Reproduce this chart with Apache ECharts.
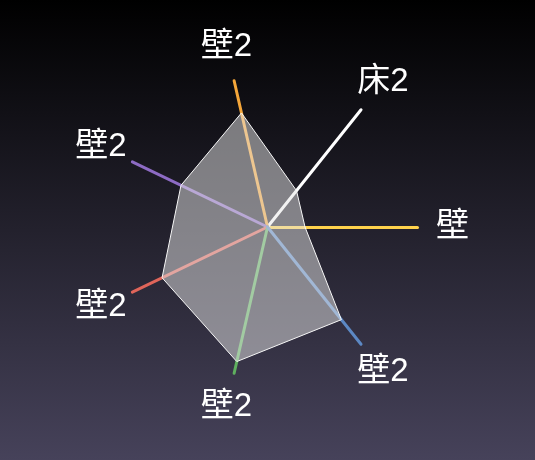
<!DOCTYPE html>
<html>
<head>
<meta charset="utf-8">
<script src="https://cdn.jsdelivr.net/npm/echarts@6/dist/echarts.min.js"></script>
<style>html,body{margin:0;padding:0;background:#000}#c{width:535px;height:460px}</style>
</head>
<body>
<div id="c"></div>
<script>
var indicatorNames = ['壁', '床2', '壁2', '壁2', '壁2', '壁2', '壁2'];
var axisColors = ['#ffd24c', '#ffffff', '#f4a63a', '#8d6bc4', '#e0655a', '#5fb05f', '#5c88c4'];
var maxValue = 100;
var seriesValues = [25, 31, 78, 64, 78, 92, 79];

var chart = echarts.init(document.getElementById('c'));
chart.setOption({
  backgroundColor: new echarts.graphic.LinearGradient(0, 0, 0, 1, [
    {offset: 0, color: '#000000'},
    {offset: 1, color: '#46425a'}
  ]),
  radar: {
    center: [267.5, 227],
    radius: 150,
    startAngle: 0,
    nameGap: 35,
    axisName: {
      color: '#fff', fontSize: 33,
      fontFamily: 'Liberation Sans, Noto Sans CJK SC, sans-serif',
      align: 'center', verticalAlign: 'middle'
    },
    splitLine: {show: false},
    splitArea: {show: false},
    axisLine: {lineStyle: {width: 3}},
    indicator: indicatorNames.map(function (n, i) {
      return {name: n, max: maxValue, axisLine: {lineStyle: {color: axisColors[i], width: 3}}};
    })
  },
  series: [{
    type: 'radar',
    symbol: 'none',
    lineStyle: {color: '#ffffff', width: 1},
    areaStyle: {color: '#e6e6e6', opacity: 0.5},
    data: [{value: seriesValues}]
  }]
});
</script>
</body>
</html>
